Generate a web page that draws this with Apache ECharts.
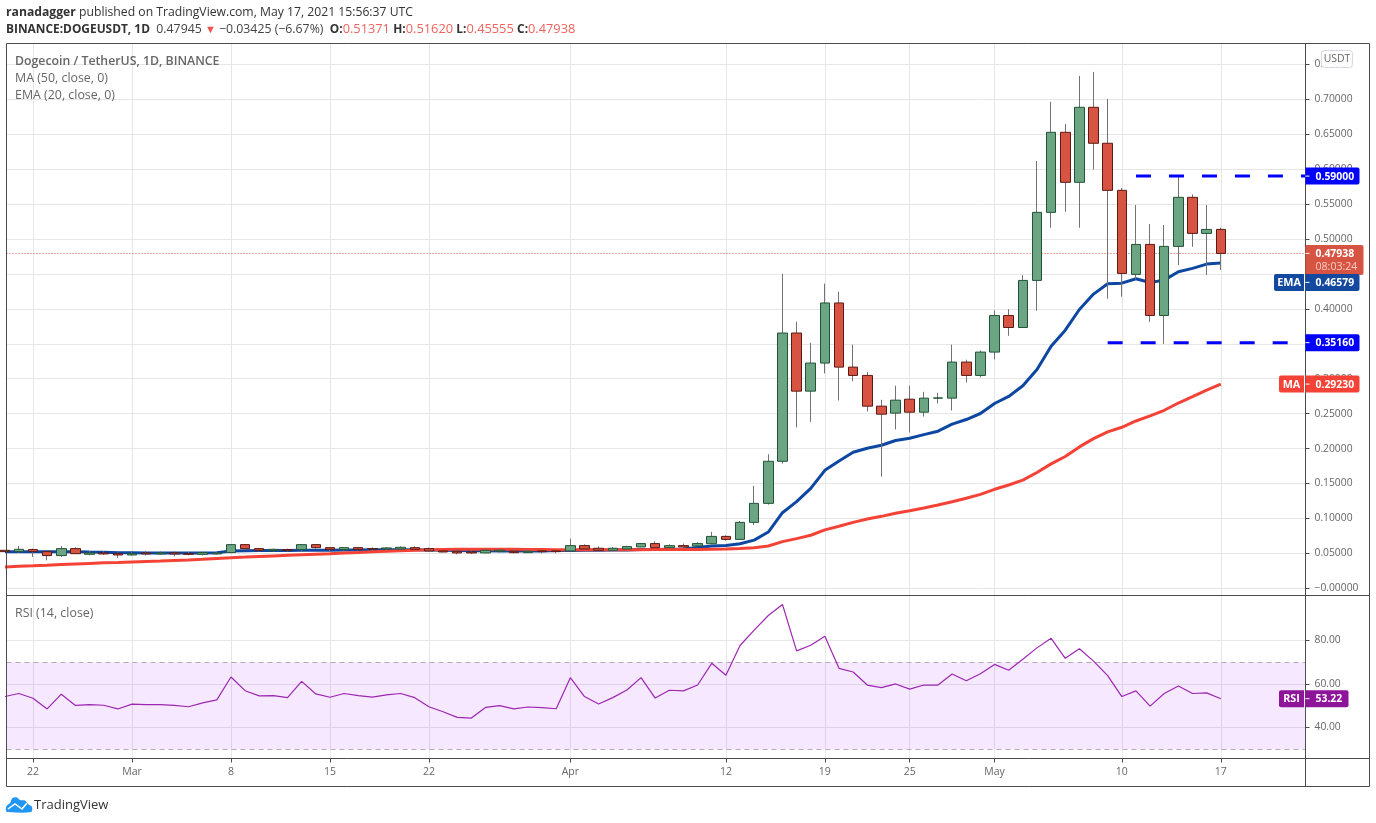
<!DOCTYPE html>
<html><head><meta charset="utf-8">
<style>html,body{margin:0;padding:0;background:#fff}#c{width:1376px;height:823px}</style>
<script src="https://cdn.jsdelivr.net/npm/echarts@6/dist/echarts.min.js"></script>
</head><body><div id="c"></div>
<script>
// Days are counted from 22 Feb 2021 (day 0); first candle is day -2, last is day 84 (17 May).
const firstDay = -2;
const opens = [.0544,.0525,.0554,.0525,.0468,.0568,.0487,.0506,.0496,.0477,.0506,.0492,.0506,.0496,.0487,.0492,.0511,.0625,.0568,.0539,.0554,.0554,.0625,.0582,.0554,.0582,.0568,.0563,.0563,.0582,.0568,.0535,.0530,.0520,.0506,.0530,.0530,.0510,.0535,.0535,.0535,.0611,.0573,.0544,.0563,.0592,.0640,.0582,.0611,.0606,.0638,.0743,.0700,.0944,.1216,.1818,
  .3654,.2822,.3224,.4084,.3166,.3047,.2607,.2507,.2707,.2521,.2722,.2722,.3238,.3047,.3381,.3905,.3733,.4407,.5381,.6527,.5811,.6885,.6370,.5696,.4493,.4922,.3905,.4894,.5596,.5080,.51371];
const closes = [.0525,.0558,.0525,.0468,.0568,.0496,.0506,.0492,.0477,.0496,.0492,.0506,.0492,.0487,.0511,.0506,.0625,.0568,.0544,.0558,.0544,.0625,.0582,.0558,.0582,.0558,.0563,.0578,.0587,.0558,.0535,.0520,.0506,.0506,.0544,.0545,.0510,.0530,.0525,.0525,.0611,.0563,.0544,.0573,.0597,.0640,.0582,.0611,.0592,.0640,.0743,.0700,.0944,.1216,.1818,.3654,
  .2822,.3224,.4084,.3166,.3047,.2607,.2492,.2693,.2521,.2722,.2725,.3238,.3047,.3381,.3905,.3733,.4407,.5381,.6527,.5811,.6885,.6370,.5696,.4507,.4922,.3905,.4894,.5596,.5080,.5137,.47938];
const lows = [.0510,.0506,.0449,.0401,.0449,.0487,.0473,.0478,.0434,.0468,.0472,.0482,.0458,.0472,.0470,.0482,.0501,.0544,.0525,.0525,.0525,.0530,.0568,.0525,.0539,.0544,.0540,.0545,.0545,.0554,.0525,.0515,.0487,.0490,.0501,.0510,.0500,.0505,.0500,.0500,.0530,.0558,.0544,.0539,.0558,.0587,.0573,.0573,.0587,.0601,.0630,.0680,.0690,.0905,.1197,.1785,
  .2301,.2382,.3076,.2688,.2961,.2531,.1599,.2273,.2230,.2459,.2645,.2545,.2946,.3018,.3276,.3614,.3733,.3972,.5161,.5390,.5161,.5992,.4144,.4173,.4421,.3814,.3500,.4626,.4889,.4483,.45555];
const highs = [.0560,.0606,.0568,.0535,.0606,.0587,.0535,.0535,.0515,.0535,.0535,.0530,.0530,.0520,.0525,.0520,.0625,.0630,.0578,.0568,.0568,.0630,.0630,.0592,.0592,.0592,.0585,.0590,.0600,.0600,.0582,.0540,.0570,.0545,.0555,.0565,.0560,.0555,.0545,.0545,.0711,.0630,.0600,.0590,.0610,.0650,.0673,.0630,.0640,.0660,.0807,.0757,.0963,.1465,.1919,.4500,
  .3816,.3515,.4361,.4247,.3487,.3095,.2698,.2899,.2899,.2813,.2798,.3487,.3272,.3405,.3979,.3996,.4483,.6116,.6962,.6647,.7334,.7392,.7005,.5730,.5486,.5214,.5200,.5901,.5639,.5486,.5162];

const ema = [.0525,.0525,.0525,.0522,.0525,.0522,.0518,.0515,.0510,.0508,.0506,.0505,.0505,.0505,.0507,.0510,.0535,.0538,.0540,.0540,.0541,.0543,.0545,.0546,.0548,.0550,.0551,.0552,.0553,.0552,.0548,.0544,.0540,.0538,.0536,.0535,.0535,.0534,.0534,.0540,.0542,.0545,.0546,.0548,.0550,.0555,.0557,.0560,.0562,.0585,.0604,.0614,.0638,.0690,.0805,.1082,.1240,.1431,.1689,.1823,.1947,.2005,.2048,.2115,.2148,.2200,.2249,.2349,.2416,.2502,.2645,.2746,.2899,.3131,.3466,.3695,.3991,.4211,.4359,.4368,.4430,.4378,.4411,.4531,.4579,.4641,.46579];
const ma = [.0305,.0315,.0322,.0330,.0340,.0348,.0356,.0364,.0370,.0378,.0384,.0390,.0398,.0405,.0415,.0427,.0439,.0447,.0456,.0464,.0472,.0480,.0488,.0496,.0505,.0512,.0522,.0530,.0538,.0545,.0552,.0556,.0558,.0560,.0560,.0560,.0558,.0556,.0554,.0552,.0552,.0552,.0552,.0552,.0553,.0553,.0554,.0554,.0555,.0556,.0560,.0563,.0568,.0582,.0606,.0668,.0711,.0759,.0836,.0889,.0944,.0991,.1030,.1073,.1111,.1150,.1192,.1240,.1288,.1345,.1417,.1479,.1548,.1657,.1781,.1886,.2024,.2143,.2238,.2305,.2395,.2467,.2548,.2652,.2743,.2838,.2923];
const rsi = [54.2,55.6,53.4,48.5,55.3,50.1,50.5,50.2,48.5,50.7,50.5,50.5,50.1,49.5,51.3,52.7,63.2,56.9,54.5,54.6,53.7,61.2,55.4,53.9,55.6,54.6,53.9,55,55.6,53.7,49.5,47.2,44.6,44.3,49.2,50,48.5,49.4,49.1,48.6,62.9,54.2,50.8,53.7,57.2,62.9,53.5,57.1,56.8,59.5,69.5,64,77.7,84.8,91.5,96.6,75.2,77.8,82,67.2,65.5,59.5,58.3,60,57.6,59.5,59.5,64.6,61.5,64.7,69,66.3,71.4,76.6,81,71.8,76.2,70.5,63.8,54.2,56.8,49.8,55.6,59.1,55.6,55.9,53.22];

const priceTicks = [0,.05,.1,.15,.2,.25,.3,.35,.4,.45,.5,.55,.6,.65,.7,.75];
const rsiTicks = [40,60,80];
const dateTickDays = [0,7,14,21,28,38,49,56,62,68,77,84];
const dateTickLabels = ['22','Mar','8','15','22','Apr','12','19','25','May','10','17'];

const resistance = .59, resistanceFrom = 78;
const support = .3516, supportFrom = 76;
const levelTo = 90;
const lastPrice = .47938, lastEma = .46579, lastMa = .2923, lastRsi = 53.22;
const rsiUpper = 70, rsiLower = 30;

const FONT = '"Open Sans", sans-serif';
const UP = '#6ba583', DOWN = '#d75442', UPB = '#225437', DOWNB = '#5b1a13', WICK = '#737375';
const GRIDC = '#e6e6e6', FRAME = '#4c4c4c', AXT = '#666';

const dayOf = i => firstDay + i;
const alignEnd = arr => arr.map((v, i) => [dayOf(i), v]);
const wickData = opens.map((o, i) => [dayOf(i), o, closes[i], lows[i], highs[i]]);
const bodyData = opens.map((o, i) => [dayOf(i), o, closes[i], Math.min(o, closes[i]), Math.max(o, closes[i])]);
const labelByDay = {};
dateTickDays.forEach((d, i) => labelByDay[d] = dateTickLabels[i]);

const xMin = -1.874, xMax = 89.99;
const chart = echarts.init(document.getElementById('c'), null, {renderer: 'canvas'});
const baseX = {type: 'value', min: xMin, max: xMax, splitLine: {show: true, lineStyle: {color: GRIDC, width: 1}}};

chart.setOption({
  animation: false,
  backgroundColor: '#fff',
  textStyle: {fontFamily: FONT},
  grid: [
    {left: 6.5, width: 1299, top: 43.5, height: 552, show: false},
    {left: 6.5, width: 1299, top: 595.5, height: 163, show: false}
  ],
  xAxis: [
    Object.assign({}, baseX, {gridIndex: 0, axisLine: {show: false, onZero: false}, axisLabel: {show: false},
      axisTick: {show: false, customValues: dateTickDays}}),
    Object.assign({}, baseX, {gridIndex: 1, position: 'bottom', axisLine: {show: false, onZero: false},
      axisTick: {show: true, length: 4, customValues: dateTickDays, lineStyle: {color: FRAME}},
      axisLabel: {show: true, customValues: dateTickDays, margin: 8, color: AXT, fontSize: 10.5, fontFamily: FONT,
        showMinLabel: true, showMaxLabel: true, formatter: v => labelByDay[v] || ''}})
  ],
  yAxis: [
    {type: 'value', gridIndex: 0, position: 'right', min: -0.0103, max: 0.7798, scale: true,
      axisLine: {show: false, onZero: false},
      axisTick: {show: true, length: 4, customValues: priceTicks, lineStyle: {color: FRAME}},
      axisLabel: {customValues: priceTicks, margin: 9, color: AXT, fontSize: 10.3, fontFamily: FONT, padding: [4, 0, 0, 0],
        formatter: v => (Math.abs(v) < 1e-9 ? '\u22120.00000' : v.toFixed(5))},
      splitLine: {show: true, lineStyle: {color: GRIDC, width: 1}}},
    {type: 'value', gridIndex: 1, position: 'right', min: 25.7, max: 100.7, scale: true,
      axisLine: {show: false, onZero: false},
      axisTick: {show: true, length: 4, customValues: rsiTicks, lineStyle: {color: FRAME}},
      axisLabel: {customValues: rsiTicks, margin: 9, color: AXT, fontSize: 10.3, fontFamily: FONT, padding: [4, 0, 0, 0],
        formatter: v => v.toFixed(2)},
      splitLine: {show: true, lineStyle: {color: GRIDC, width: 1}}}
  ],
  series: [
    {type: 'line', name: 'EMA', xAxisIndex: 0, yAxisIndex: 0, data: alignEnd(ema), showSymbol: false, symbol: 'none', z: 3,
      lineStyle: {color: '#0d47a1', width: 3}},
    {type: 'line', name: 'MA', xAxisIndex: 0, yAxisIndex: 0, data: alignEnd(ma), showSymbol: false, symbol: 'none', z: 4,
      lineStyle: {color: '#f44336', width: 3}},
    {type: 'candlestick', name: 'wick', xAxisIndex: 0, yAxisIndex: 0, data: wickData, encode: {x: 0, y: [1, 2, 3, 4]}, barWidth: 1, z: 5,
      itemStyle: {color: WICK, color0: WICK, borderColor: WICK, borderColor0: WICK, borderWidth: 1}},
    {type: 'candlestick', name: 'DOGEUSDT', xAxisIndex: 0, yAxisIndex: 0, data: bodyData, encode: {x: 0, y: [1, 2, 3, 4]}, barWidth: 10, z: 6,
      itemStyle: {color: UP, color0: DOWN, borderColor: UPB, borderColor0: DOWNB, borderWidth: 1},
      markLine: {silent: true, symbol: 'none', animation: false, label: {show: false},
        lineStyle: {color: DOWN, type: [1, 2], width: 1}, data: [{yAxis: lastPrice}]}},
    {type: 'line', name: 'resistance', xAxisIndex: 0, yAxisIndex: 0, data: [[resistanceFrom, resistance], [levelTo, resistance]], symbol: 'none', z: 7,
      lineStyle: {color: '#0000ff', width: 3, type: [15, 18]}},
    {type: 'line', name: 'support', xAxisIndex: 0, yAxisIndex: 0, data: [[supportFrom, support], [levelTo, support]], symbol: 'none', z: 7,
      lineStyle: {color: '#0000ff', width: 3, type: [15, 18]}},
    {type: 'line', name: 'RSI', xAxisIndex: 1, yAxisIndex: 1, data: alignEnd(rsi), symbol: 'none', z: 5,
      lineStyle: {color: '#9c27b0', width: 1.2},
      markArea: {silent: true, animation: false, itemStyle: {color: 'rgba(152,0,255,0.09)'}, data: [[{yAxis: rsiUpper}, {yAxis: rsiLower}]]},
      markLine: {silent: true, symbol: 'none', animation: false, label: {show: false},
        lineStyle: {color: '#b5acb8', type: [5, 4], width: 1}, data: [{yAxis: rsiUpper}, {yAxis: rsiLower}]}}
  ]
});

// ---- furniture: frame, captions, price tags (tag positions come from the axis scales)
const py = v => chart.convertToPixel({yAxisIndex: 0}, v);
const ry = v => chart.convertToPixel({yAxisIndex: 1}, v);
const AX = 1305.5;
function box(x, y, w, h, fill, r) { return {type: 'rect', z: 30, shape: {x, y, width: w, height: h, r: r || 0}, style: {fill}}; }
function txt(x, y, text, o) {
  return {type: 'text', z: 31, x, y, style: Object.assign({text, fontFamily: FONT, fontSize: 12, fill: '#fff', verticalAlign: 'middle'}, o || {})};
}
function tag(cy, name, value, color, w, nameX) {
  const out = [box(AX, cy - 8.5, w, 17, color, [0, 2, 2, 0]),
    {type: 'line', z: 31, shape: {x1: AX, y1: cy, x2: AX + 4, y2: cy}, style: {stroke: '#fff', lineWidth: 1}},
    txt(AX + 10, cy + 0.5, value, {fontWeight: 'bold', fontSize: 10.4})];
  if (name) {
    out.push(box(nameX, cy - 8.5, AX - 1.5 - nameX, 17, color, [2, 0, 0, 2]));
    out.push(txt(nameX + (AX - 1.5 - nameX) / 2, cy + 0.5, name, {fontWeight: 'bold', fontSize: 10.8, align: 'center'}));
  }
  return out;
}
const lastY = py(lastPrice);
const graphics = [
  {type: 'rect', z: 29, shape: {x: 6.5, y: 43.5, width: 1363, height: 743}, style: {fill: 'none', stroke: FRAME, lineWidth: 1}},
  {type: 'line', z: 29, shape: {x1: AX, y1: 43.5, x2: AX, y2: 786.5}, style: {stroke: FRAME, lineWidth: 1}},
  {type: 'line', z: 29, shape: {x1: 6.5, y1: 595.5, x2: 1369.5, y2: 595.5}, style: {stroke: FRAME, lineWidth: 1}},
  {type: 'line', z: 29, shape: {x1: 6.5, y1: 758.5, x2: 1369.5, y2: 758.5}, style: {stroke: FRAME, lineWidth: 1}},
  // header
  {type: 'text', z: 31, x: 6, y: 12.5, style: {
    text: '{b|ranadagger}{n| published on TradingView.com, May 17, 2021 15:56:37 UTC}',
    verticalAlign: 'middle',
    rich: {b: {fontFamily: FONT, fontWeight: 'bold', fontSize: 12.2, fill: '#333'}, n: {fontFamily: FONT, fontSize: 12.2, fill: '#333'}}}},
  {type: 'text', z: 31, x: 6, y: 29.5, style: {
    text: '{b|BINANCE:DOGEUSDT, 1D}{n|  0.47945 }{r|\u25BC}{n| \u22120.03425 (\u22126.67%)  }{b|O:}{c|0.51371} {b|H:}{c|0.51620} {b|L:}{c|0.45555} {b|C:}{c|0.47938}',
    verticalAlign: 'middle',
    rich: {b: {fontFamily: FONT, fontWeight: 'bold', fontSize: 11.9, fill: '#333'}, n: {fontFamily: FONT, fontSize: 12.3, fill: '#444'},
      r: {fontFamily: FONT, fontSize: 11, fill: '#ef5350'}, c: {fontFamily: FONT, fontSize: 12.8, fill: '#f0625d'}}}},
  // captions
  txt(15, 61, 'Dogecoin / TetherUS, 1D, BINANCE', {fill: '#666', fontWeight: 600, fontSize: 12.3}),
  txt(15, 78, 'MA (50, close, 0)', {fill: '#666', fontSize: 12.4}),
  txt(15, 95, 'EMA (20, close, 0)', {fill: '#666', fontSize: 12.4}),
  txt(15, 613, 'RSI (14, close)', {fill: '#666', fontSize: 12.4}),
  // currency badge
  {type: 'rect', z: 30, shape: {x: 1321.5, y: 50.5, width: 31, height: 17, r: 3}, style: {fill: 'rgba(255,255,255,0.93)', stroke: '#d6d8e8', lineWidth: 1}},
  txt(1337, 59.5, 'USDT', {fill: '#666', fontSize: 10.4, align: 'center'}),
  ...tag(py(resistance), null, resistance.toFixed(5), '#0000ff', 54),
  ...tag(py(support), null, support.toFixed(5), '#0000ff', 54),
  // last price: two-line tag
  box(AX, lastY - 8.5, 58, 30, DOWN, [0, 2, 2, 0]),
  {type: 'line', z: 31, shape: {x1: AX, y1: lastY, x2: AX + 4, y2: lastY}, style: {stroke: '#fff', lineWidth: 1}},
  txt(AX + 10, lastY + 0.5, lastPrice.toFixed(5), {fontWeight: 'bold', fontSize: 10.4}),
  txt(AX + 10, lastY + 14, '08:03:24', {fontSize: 10.6, fill: '#f7cdc8'}),
  ...tag(py(lastEma) + 19.5, 'EMA', lastEma.toFixed(5), '#134a9f', 54, 1274),
  ...tag(py(lastMa), 'MA', lastMa.toFixed(5), '#f44336', 54, 1279),
  ...tag(ry(lastRsi), 'RSI', lastRsi.toFixed(2), '#8e1599', 43, 1279),
  // footer logo
  {type: 'polygon', z: 31, shape: {smooth: 0.35, points: [[6, 811], [6.5, 806], [10, 803], [12.5, 798], [17, 797.5], [20, 800], [25, 800.5], [28, 804], [32, 807], [31, 812], [8, 812]]}, style: {fill: '#2196f3'}},
  {type: 'polyline', z: 32, shape: {points: [[8, 809], [15, 804], [22, 809], [27, 803]]}, style: {fill: 'none', stroke: '#fff', lineWidth: 1.5}},
  txt(34, 805, 'TradingView', {fill: '#333', fontSize: 13})
];
chart.setOption({graphic: {elements: graphics}});
</script></body></html>
